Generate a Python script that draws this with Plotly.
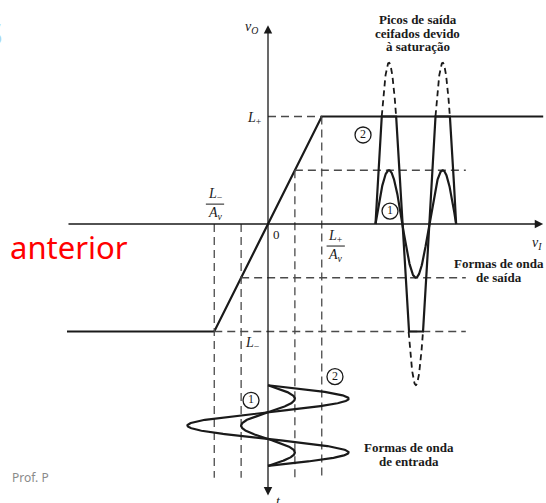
import numpy as np
import plotly.graph_objects as go

# Transfer characteristic of the amplifier
L_PLUS = 10.0          # positive saturation level
L_MINUS = -10.0        # negative saturation level
AV = 2.0               # small-signal gain
VI_MIN, VI_MAX = -18.7, 25.6   # extent of the drawn characteristic / vI axis

# Input sinusoids (1) small and (2) large, and their timing
INPUT_AMPS = [2.5, 7.5]
PERIOD = 5.0
N_CYCLES = 1.5
OUT_T0 = 10.0          # where the output time axis starts along vI
IN_T0 = -15.0          # where the input time axis starts along vO (downwards)
CIRCLE_LABELS = ["1", "2"]

S = 10.75              # pixels per unit on both axes
W, H = 546, 503
X0_PX, Y0_PX = 268, 224  # origin position

INK = "#1a1a1a"
DASH_INK = "#4a4a4a"
SERIF = "Liberation Serif"

fig = go.Figure()


def line(x, y, width=2.0, color=INK, dash="solid"):
    fig.add_trace(go.Scatter(x=list(x), y=list(y), mode="lines",
                             line=dict(color=color, width=width, dash=dash),
                             hoverinfo="skip", showlegend=False))


DASH = "8px,5px"

# --- transfer characteristic -------------------------------------------------
vi_knots = np.array([VI_MIN, L_MINUS / AV, L_PLUS / AV, VI_MAX])
vo_knots = np.clip(AV * vi_knots, L_MINUS, L_PLUS)
line(vi_knots, vo_knots, width=2.2)

# --- guide lines --------------------------------------------------------------
v_bottom = -23.6
right_end = 18.4
a1 = INPUT_AMPS[0]
line([0, L_PLUS / AV], [L_PLUS, L_PLUS], 1.3, DASH_INK, DASH)
line([L_MINUS / AV, right_end], [L_MINUS, L_MINUS], 1.3, DASH_INK, DASH)
line([a1, right_end], [AV * a1, AV * a1], 1.3, DASH_INK, DASH)
line([-a1, right_end], [-AV * a1, -AV * a1], 1.3, DASH_INK, DASH)
for xv, ytop in [(L_MINUS / AV, 0), (-a1, 0), (a1, AV * a1), (L_PLUS / AV, L_PLUS)]:
    line([xv, xv], [ytop, v_bottom], 1.3, DASH_INK, DASH)

# --- output waveforms (time runs along +vI) ------------------------------------
t = np.linspace(0, N_CYCLES * PERIOD, 400)
phase = np.sin(2 * np.pi * t / PERIOD)
for amp in INPUT_AMPS:
    vo = AV * amp * phase
    vo_clip = np.clip(vo, L_MINUS, L_PLUS)
    line(OUT_T0 + t, vo_clip, 2.2)
    over = np.where(np.abs(vo) >= L_PLUS - 1e-9, vo, np.nan)
    if np.any(~np.isnan(over)):
        xs = np.where(np.isnan(over), None, OUT_T0 + t)
        ys = np.where(np.isnan(over), None, over)
        fig.add_trace(go.Scatter(x=list(xs), y=list(ys), mode="lines",
                                 line=dict(color=INK, width=1.8, dash="6px,4px"),
                                 connectgaps=False, hoverinfo="skip",
                                 showlegend=False))

# --- input waveforms (time runs along -vO) --------------------------------------
for amp in INPUT_AMPS:
    line(amp * phase, IN_T0 - t, 2.2)

# --- axes with arrows ------------------------------------------------------------
v_top = 18.5
v_end = -25.4
fig.add_annotation(x=VI_MAX, y=0, ax=VI_MIN, ay=0, xref="x", yref="y",
                   axref="x", ayref="y", showarrow=True, arrowhead=2,
                   arrowsize=1.3, arrowwidth=1.3, arrowcolor=INK, text="")
fig.add_annotation(x=0, y=v_top, ax=0, ay=v_end, xref="x", yref="y",
                   axref="x", ayref="y", showarrow=True, arrowhead=2,
                   startarrowhead=2, arrowside="end+start", arrowsize=1.3,
                   startarrowsize=1.3, arrowwidth=1.3, arrowcolor=INK, text="")

# --- circled waveform numbers -------------------------------------------------------
circ_x = [11.35, 8.84, -1.58, 6.23]
circ_y = [1.2, 8.28, -16.4, -14.2]
circ_t = [CIRCLE_LABELS[0], CIRCLE_LABELS[1], CIRCLE_LABELS[0], CIRCLE_LABELS[1]]
fig.add_trace(go.Scatter(x=circ_x, y=circ_y, mode="markers+text", text=circ_t,
                         textposition="middle center",
                         textfont=dict(family=SERIF, size=12, color=INK),
                         marker=dict(symbol="circle", size=16, color="white",
                                     line=dict(color=INK, width=1.3)),
                         hoverinfo="skip", showlegend=False))


def label(x, y, text, size=12, family=SERIF, color=INK, xanchor="center",
          yanchor="middle"):
    fig.add_annotation(x=x, y=y, xref="x", yref="y", text=text,
                       showarrow=False, xanchor=xanchor, yanchor=yanchor,
                       font=dict(family=family, size=size, color=color))


# axis labels
label(-1.5, 18.3, "<i>v<sub>O</sub></i>", 14)
label(25.0, -1.8, "<i>v<sub>I</sub></i>", 14)
label(0.95, -25.8, "<i>t</i>", 14)
label(-1.3, 9.86, "<i>L</i><sub>+</sub>", 14)
label(-1.4, -11.1, "<i>L</i><sub>−</sub>", 14)
label(0.75, -1.0, "0", 13)

# fractions L-/Av and L+/Av
for cx, ytop in [(-4.93, 2.7), (6.3, -1.2)]:
    sign = "−" if cx < 0 else "+"
    label(cx, ytop, f"<i>L</i><sub>{sign}</sub>", 14)
    line([cx - 0.85, cx + 0.85], [ytop - 0.85, ytop - 0.85], 1.0, INK)
    label(cx, ytop - 1.7, "<i>A<sub>v</sub></i>", 14)

# captions, one annotation per line for tight line spacing
for i, txt in enumerate(["Picos de saída", "ceifados devido", "à saturação"]):
    label(13.95, 19.0 - i * 1.24, f"<b>{txt}</b>", 13)
for i, txt in enumerate(["Formas de onda", "de saída"]):
    label(21.5, -3.7 - i * 1.3, f"<b>{txt}</b>", 13)
for i, txt in enumerate(["Formas de onda", "de entrada"]):
    label(13.1, -20.75 - i * 1.3, f"<b>{txt}</b>", 13)

# slide text around the figure
label((8 - X0_PX) / S, (Y0_PX - 247) / S, "anterior", 31, "Noto Sans",
      "#ff0000", xanchor="left")
label((10 - X0_PX) / S, (Y0_PX - 477) / S, "Prof. P", 12, "Noto Sans",
      "#8a8a8a", xanchor="left")
label((4 - X0_PX) / S, (Y0_PX - 33) / S, "S", 30, "Noto Sans", "#a8d6f2",
      xanchor="right")

fig.update_layout(
    width=W, height=H,
    margin=dict(l=0, r=0, t=0, b=0),
    paper_bgcolor="white", plot_bgcolor="white",
    xaxis=dict(range=[-X0_PX / S, (W - X0_PX) / S], visible=False,
               fixedrange=True),
    yaxis=dict(range=[-(H - Y0_PX) / S, Y0_PX / S], visible=False,
               fixedrange=True),
    showlegend=False,
)

fig.write_html("out.html")
